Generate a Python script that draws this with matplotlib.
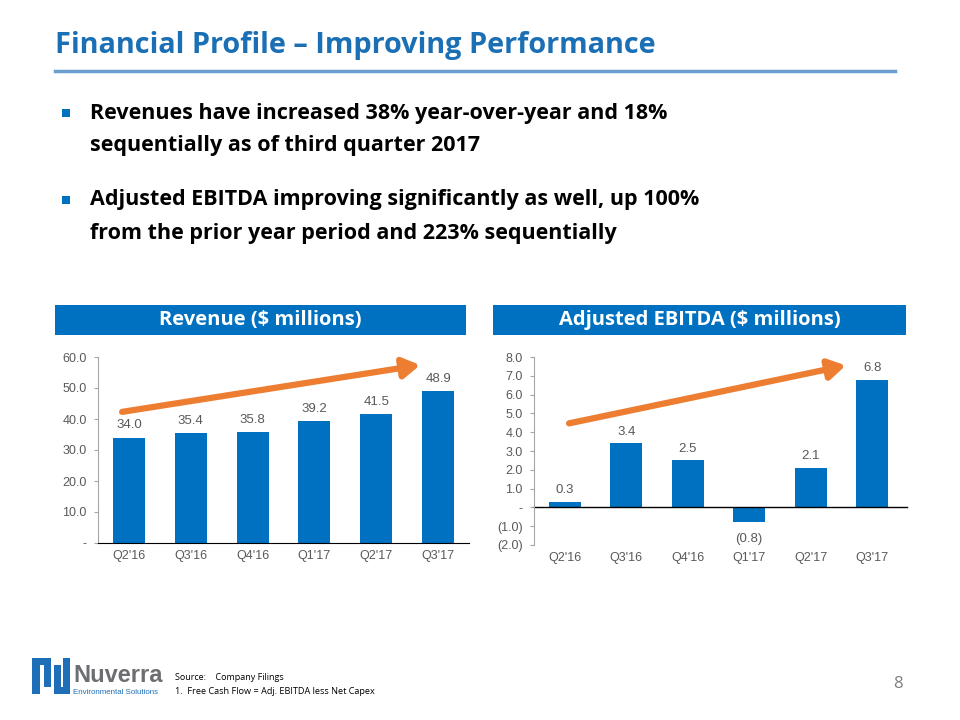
import matplotlib.pyplot as plt
from matplotlib.patches import Rectangle

# Data
quarters = ["Q2'16", "Q3'16", "Q4'16", "Q1'17", "Q2'17", "Q3'17"]
revenue = [34.0, 35.4, 35.8, 39.2, 41.5, 48.9]
ebitda = [0.3, 3.4, 2.5, -0.8, 2.1, 6.8]
rev_ticks = [0, 10, 20, 30, 40, 50, 60]
ebitda_ticks = [-2, -1, 0, 1, 2, 3, 4, 5, 6, 7, 8]

bullets = [
    ["Revenues have increased 38% year-over-year and 18%",
     "sequentially as of third quarter 2017"],
    ["Adjusted EBITDA improving significantly as well, up 100%",
     "from the prior year period and 223% sequentially"],
]

BLUE = '#0070C0'
ORANGE = '#ED7D31'
GRAY = '#595959'
W, H = 960, 720

plt.rcParams['font.family'] = ['Open Sans', 'DejaVu Sans']
fig = plt.figure(figsize=(9.6, 7.2), dpi=100)


def fx(x):
    return x / W


def fy(y):
    return 1 - y / H


def fmt_num(v):
    if v == 0:
        return '-'
    if v < 0:
        return '({:.1f})'.format(-v)
    return '{:.1f}'.format(v)


def box(x0, y0, x1, y1, color):
    # rectangle given in pixel coords (top-left origin)
    fig.add_artist(Rectangle((fx(x0), fy(y1)), (x1 - x0) / W, (y1 - y0) / H, color=color, lw=0))


# Title and rule
fig.text(fx(55), fy(46), 'Financial Profile \u2013 Improving Performance', color='#1A6FB5',
         fontsize=20.8, fontweight='bold', va='center', ha='left')
fig.add_artist(plt.Line2D([fx(55), fx(895)], [fy(71), fy(71)], color='#6A9FD0', lw=2.5))

# Bullets
for yb, lines in zip([113, 200], bullets):
    box(62, yb - 4, 70, yb + 4, BLUE)
    for i, line in enumerate(lines):
        fig.text(fx(90), fy(yb + 33 * i), line, fontsize=15.5, fontweight='bold',
                 color='black', va='center', ha='left')

# Header boxes
for x0, x1, label in [(55, 466, 'Revenue ($ millions)'), (493, 906, 'Adjusted EBITDA ($ millions)')]:
    box(x0, 305, x1, 335, BLUE)
    fig.text(fx((x0 + x1) / 2), fy(320), label, color='white', fontsize=14.5,
             fontweight='bold', ha='center', va='center')


def style_axes(ax):
    ax.spines['top'].set_visible(False)
    ax.spines['right'].set_visible(False)
    ax.spines['left'].set_color('#A6A6A6')
    ax.tick_params(axis='y', length=3, width=0.8, color='#A6A6A6', direction='out',
                   labelsize=9, labelcolor=GRAY, pad=5)
    ax.tick_params(axis='x', length=0, labelsize=9, labelcolor=GRAY, pad=5)
    for lab in ax.get_xticklabels() + ax.get_yticklabels():
        lab.set_family(['Liberation Sans', 'DejaVu Sans'])


# Revenue chart
ax1 = fig.add_axes([fx(98), fy(543), (469 - 98) / W, (543 - 357) / H])
x = list(range(len(quarters)))
ax1.bar(x, revenue, width=0.52, color=BLUE)
ax1.set_xlim(-0.5, len(quarters) - 0.5)
ax1.set_ylim(0, 60)
ax1.set_yticks(rev_ticks)
ax1.set_yticklabels([fmt_num(v) for v in rev_ticks])
ax1.set_xticks(x)
ax1.set_xticklabels(quarters)
ax1.spines['bottom'].set_color('black')
style_axes(ax1)
for xi, v in zip(x, revenue):
    ax1.text(xi, v + 2.0, fmt_num(v), ha='center', va='bottom', fontsize=9.5,
             color=GRAY, family=['Liberation Sans', 'DejaVu Sans'])
ax1.annotate('', xy=(4.71, 57.4), xytext=(-0.11, 42.3),
             arrowprops=dict(arrowstyle='-|>,head_length=1.0,head_width=0.6',
                             color=ORANGE, lw=4.5, shrinkA=0, shrinkB=0),
             annotation_clip=False)

# EBITDA chart
ax2 = fig.add_axes([fx(534), fy(545), (903 - 534) / W, (545 - 357) / H])
ax2.bar(x, ebitda, width=0.52, color=BLUE)
ax2.set_xlim(-0.5, len(quarters) - 0.5)
ax2.set_ylim(-2, 8)
ax2.set_yticks(ebitda_ticks)
ax2.set_yticklabels([fmt_num(v) for v in ebitda_ticks])
ax2.set_xticks(x)
ax2.set_xticklabels(quarters)
ax2.spines['bottom'].set_visible(False)
ax2.axhline(0, color='black', lw=1, xmax=1.01, clip_on=False)
style_axes(ax2)
for xi, v in zip(x, ebitda):
    if v >= 0:
        ax2.text(xi, v + 0.3, fmt_num(v), ha='center', va='bottom', fontsize=9.5,
                 color=GRAY, family=['Liberation Sans', 'DejaVu Sans'])
    else:
        ax2.text(xi, v - 0.55, fmt_num(v), ha='center', va='top', fontsize=9.5,
                 color=GRAY, family=['Liberation Sans', 'DejaVu Sans'])
ax2.annotate('', xy=(4.57, 7.55), xytext=(0.07, 4.47),
             arrowprops=dict(arrowstyle='-|>,head_length=1.0,head_width=0.6',
                             color=ORANGE, lw=4.5, shrinkA=0, shrinkB=0),
             annotation_clip=False)

# Footer: logo mark (two interlocked U shapes) and text
LOGO = '#1F6FB8'
box(32, 658, 40, 694, LOGO)   # left outer leg
box(32, 658, 51, 665, LOGO)   # top bridge
box(44, 658, 51, 687, LOGO)   # left inner leg
box(54, 665, 61, 694, LOGO)   # right inner leg
box(54, 687, 70, 694, LOGO)   # bottom bridge
box(63, 658, 70, 694, LOGO)   # right outer leg
fig.text(fx(73), fy(676), 'Nuverra', color='#6D6E71', fontsize=17, fontweight='bold',
         ha='left', va='center', family=['Liberation Sans', 'DejaVu Sans'])
fig.text(fx(73), fy(692), 'Environmental Solutions', color=LOGO, fontsize=5.7,
         ha='left', va='center', family=['Liberation Sans', 'DejaVu Sans'])
fig.text(fx(175), fy(677), 'Source:    Company Filings', fontsize=6.5, color='black',
         ha='left', va='center')
fig.text(fx(175), fy(691), '1.  Free Cash Flow = Adj. EBITDA less Net Capex', fontsize=6.6,
         color='black', ha='left', va='center')
fig.text(fx(903), fy(684), '8', fontsize=12, color='#7F7F7F', ha='right', va='center')

fig.savefig('out.png', dpi=100)
